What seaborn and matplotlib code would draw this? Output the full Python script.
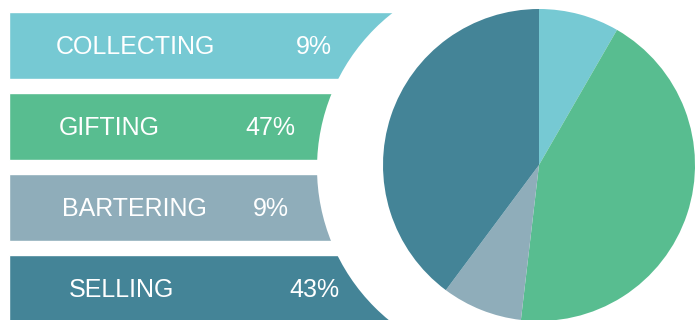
import matplotlib
matplotlib.use("Agg")
import matplotlib.pyplot as plt
import matplotlib.transforms as mtransforms
from matplotlib.patches import Circle
import pandas as pd
import seaborn as sns

# --- data -------------------------------------------------------------
activities = ["COLLECTING", "GIFTING", "BARTERING", "SELLING"]
shares = [9, 47, 9, 43]
share_labels = ["9%", "47%", "9%", "43%"]
colors = ["#76C9D3", "#58BD90", "#8FADBA", "#448497"]
band = [100, 100, 100, 100]  # every label band runs the full width

# --- layout (pixels) --------------------------------------------------
W, H = 697, 320
name_x = [135, 109, 134, 122]
pct_x = [314, 270, 271, 314]
pie_center = (539, H - 165)
pie_radius = 156
mask_center = (514, H - 168)
mask_radius = 197
font_size = 18

sns.set_theme(style="white")
plt.rcParams["font.family"] = ["Liberation Sans", "DejaVu Sans"]

fig = plt.figure(figsize=(W / 100, H / 100), dpi=100)

# label bands
bar_left, bar_right = 9, 470
ax_bar = fig.add_axes([bar_left / W, 0, (bar_right - bar_left) / W, 1])
df = pd.DataFrame({"activity": activities, "band": band, "share": shares})
sns.barplot(data=df, x="band", y="activity", hue="activity", palette=colors,
            legend=False, orient="h", width=67 / 81, saturation=1,
            ax=ax_bar)
step = 81
first = 45.5
ax_bar.set_ylim((H - first) / step, -first / step)
ax_bar.set_xlim(0, 100)
ax_bar.axis("off")

# text inside the bands: pixel x, category y, shifted so caps sit centred
cap_shift = -0.716 * font_size / 2
text_tr = mtransforms.offset_copy(
    mtransforms.blended_transform_factory(
        mtransforms.Affine2D().scale(1 / W, 1) + fig.transFigure,
        ax_bar.transData),
    fig=fig, y=cap_shift, units="points")
for k, (name, pct) in enumerate(zip(activities, share_labels)):
    ax_bar.text(name_x[k], k, name, transform=text_tr, ha="center",
                va="baseline", color="white", fontsize=font_size)
    ax_bar.text(pct_x[k], k, pct, transform=text_tr, ha="center",
                va="baseline", color="white", fontsize=font_size)

# white disc that trims the bands, and the pie on top of it
ax_pie = fig.add_axes([0, 0, 1, 1])
ax_pie.set_xlim(0, W)
ax_pie.set_ylim(0, H)
ax_pie.add_patch(Circle(mask_center, mask_radius, facecolor="white",
                        edgecolor="none", zorder=1))
wedges, _ = ax_pie.pie(shares, colors=colors, startangle=90,
                       counterclock=False, center=pie_center,
                       radius=pie_radius, frame=True,
                       wedgeprops=dict(linewidth=0, zorder=2))
ax_pie.set_xlim(0, W)
ax_pie.set_ylim(0, H)
ax_pie.set_aspect("equal")
ax_pie.axis("off")
ax_pie.patch.set_alpha(0)

fig.savefig("out.png", dpi=100, facecolor="white")
